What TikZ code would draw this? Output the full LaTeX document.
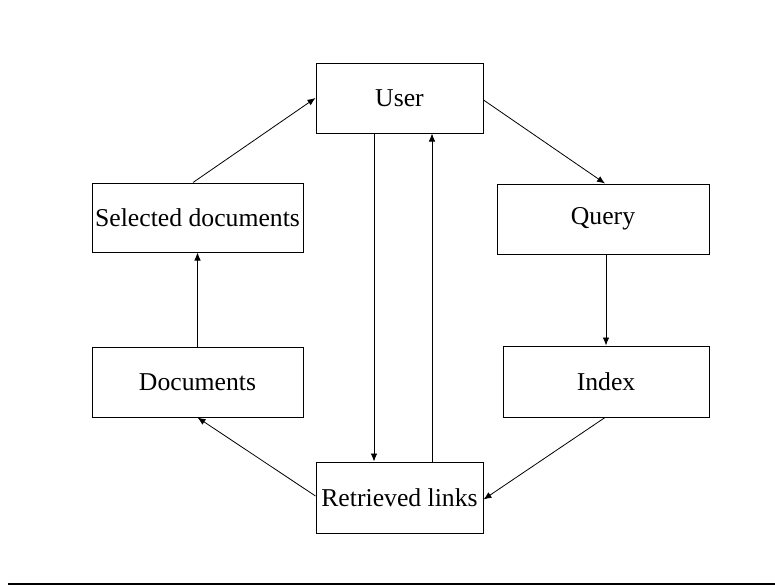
\documentclass[tikz,border=0pt]{standalone}
\usepackage{fontspec}
\setmainfont{Liberation Serif}
\usetikzlibrary{arrows.meta,positioning}
\tikzset{
  stepbox/.style = {rectangle, draw=black, line width=1pt, align=center, inner sep=0pt, font=\fontsize{25.7}{30}\selectfont},
  flow/.style = {->, >={Latex[length=8pt,width=6.5pt]}, line width=0.8pt}
}

\begin{document}
\begin{tikzpicture}[x=1pt,y=-1pt]
\useasboundingbox (0,0) rectangle (775,586);
\node [stepbox, minimum width=167pt, minimum height=70pt] (user) at (399.5,98) {User};
\node [stepbox, minimum width=211pt, minimum height=69pt] (sel) at (197.5,217.5) {Selected documents};
\node [stepbox, minimum width=212pt, minimum height=70pt] (query) at (603,219) {Query};
\node [stepbox, minimum width=211pt, minimum height=70pt] (docs) at (197.5,382) {Documents};
\node [stepbox, minimum width=206pt, minimum height=71pt] (index) at (606,381.5) {Index};
\node [stepbox, minimum width=167pt, minimum height=71pt] (links) at (399.5,497.5) {Retrieved links};

\draw [flow] ([xshift=-4.5pt]sel.north) -- (user.west);
\draw [flow] ([yshift=-2pt]user.east) -- ([xshift=2pt]query.north);
\draw [flow] (index.north |- query.south) -- (index.north);
\draw [flow] ([xshift=-1pt]index.south) -- ([yshift=-2pt]links.east);
\draw [flow] ([yshift=1.5pt]links.west) -- (docs.south);
\draw [flow] (docs.north) -- (sel.south);
\draw [flow] ([xshift=-25.5pt]user.south) -- ([xshift=-25.5pt]links.north);
\draw [flow] ([xshift=32.5pt]links.north) -- ([xshift=32.5pt]user.south);

% rule under the figure
\draw [line width=2pt] (8,584) -- (775,584);
\end{tikzpicture}
\end{document}
